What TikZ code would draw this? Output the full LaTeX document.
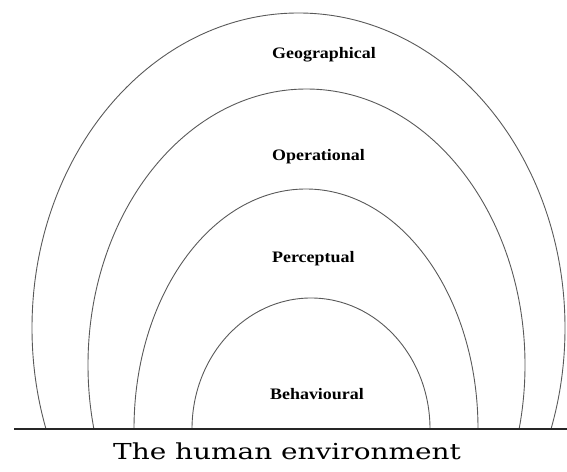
\documentclass[tikz,border=0pt]{standalone}
\usepackage{fontspec}
\usepackage{graphicx}
\setmainfont{Liberation Serif}
\newfontfamily\bigserif{DejaVu Serif}
\begin{document}
\begin{tikzpicture}[x=1pt,y=1pt,
  ring/.style={draw=black!65,line width=0.9pt},
  ringlabel/.style={anchor=west,inner sep=0pt,font=\fontsize{16}{18}\selectfont\bfseries},
  ground/.style={draw=black!85,line width=2.6pt}]
\useasboundingbox (0,0) rectangle (567,471);
\begin{scope}
  \clip (0,42) rectangle (567,471);
  \draw[ring] (298.5,143) ellipse [x radius=266.5, y radius=315];
  \draw[ring] (306.5,106) ellipse [x radius=218.5, y radius=276];
  \draw[ring] (306,42) ellipse [x radius=172, y radius=240];
  \draw[ring] (311,42) ellipse [x radius=119, y radius=131];
\end{scope}
\coordinate (gl) at (14,42);
\coordinate (gr) at (567,42);
\draw[ground] (gl) -- (gr);
\node[ringlabel] (geo) at (272,416) {\scalebox{1.12}[1]{Geographical}};
\node[ringlabel] (ope) at (272,314) {\scalebox{1.12}[1]{Operational}};
\node[ringlabel] (per) at (272,212) {\scalebox{1.12}[1]{Perceptual}};
\node[ringlabel] (beh) at (270,77) {\scalebox{1.12}[1]{Behavioural}};
\node[inner sep=0pt] (title) at (287,20) {\bigserif\fontsize{22}{25}\selectfont\scalebox{1.27}[1]{The human environment}};
\end{tikzpicture}
\end{document}
